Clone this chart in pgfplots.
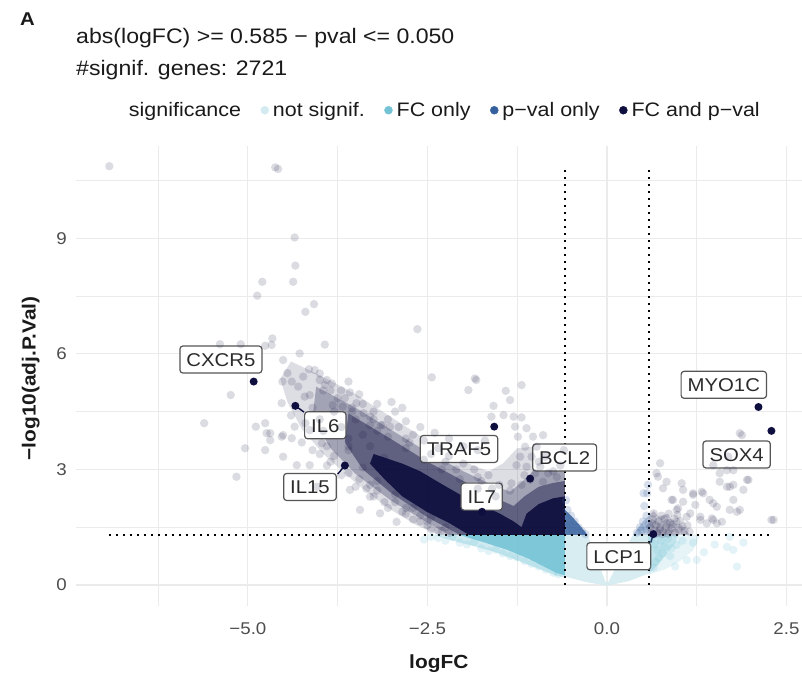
\documentclass[border=0pt]{standalone}
\usepackage{fontspec}
\setmainfont{Liberation Sans}[FakeStretch=1.1]
\usepackage{pgfplots}
\pgfplotsset{compat=1.18}
\definecolor{nscol}{HTML}{D3EBF0}
\definecolor{fccol}{HTML}{74C3D5}
\definecolor{pvcol}{HTML}{35609E}
\definecolor{bothcol}{HTML}{0E0E3F}
\definecolor{gridcol}{HTML}{EBEBEB}
\definecolor{tickcol}{HTML}{4D4D4D}
\definecolor{txtcol}{HTML}{1A1A1A}
\definecolor{labtxt}{HTML}{2B2B2B}
\definecolor{labdraw}{HTML}{555555}
\tikzset{glab/.style={draw=labdraw, fill=white, rounded corners=3pt, line width=1.2pt,
  inner xsep=6.5pt, inner ysep=5pt, text height=15.5pt, text depth=1.5pt,
  font=\fontsize{18.5}{20}\selectfont, text=labtxt}}
\pgfplotsset{dots/.style 2 args={only marks, mark=*, mark size=4.2pt, forget plot, color=#1,
  mark options={draw=#1, fill=#1, draw opacity=0, line width=0pt, fill opacity=#2}},
  area/.style 2 args={draw=none, fill=#1, fill opacity=#2, forget plot}}
\begin{document}
\begin{tikzpicture}[x=1pt,y=1pt]
\path[use as bounding box] (0,0) rectangle (802,680);
\node[anchor=base west, inner sep=0pt, font=\bfseries\fontsize{18.5}{20}\selectfont, text=txtcol] at (20,654) {A};
\node[anchor=base west, inner sep=0pt, font=\fontsize{21}{24}\selectfont, text=txtcol] at (76,636) {abs(logFC) >= 0.585 − pval <= 0.050};
\node[anchor=base west, inner sep=0pt, font=\fontsize{21}{24}\selectfont, text=txtcol] at (76,604.7) {\#signif. genes: 2721};
\node[anchor=base, inner sep=0pt, font=\bfseries\fontsize{19}{22}\selectfont, text=txtcol] at (438.8,11.4) {logFC};
\node[anchor=base, rotate=90, inner sep=0pt, font=\bfseries\fontsize{19}{22}\selectfont, text=txtcol] at (35.5,301.5) {−log10(adj.P.Val)};
\begin{axis}[at={(75.6pt,74.1pt)}, anchor=south west, scale only axis,
  width=726.4pt, height=460.1pt,
  xmin=-7.40, xmax=2.716, ymin=-0.543, ymax=11.40,
  clip=false,
  axis line style={draw=none}, tick style={draw=none},
  xtick={-5,-2.5,0,2.5}, xticklabels={−5.0,−2.5,0.0,2.5},
  ytick={0,3,6,9}, yticklabels={0,3,6,9},
  minor xtick={-6.25,-3.75,-1.25,1.25}, minor ytick={1.5,4.5,7.5,10.5},
  grid=both,
  major grid style={draw=gridcol, line width=1.1pt},
  minor grid style={draw=gridcol, line width=0.6pt},
  tick label style={font=\fontsize{17}{20}\selectfont, text=tickcol, inner sep=0pt},
  xticklabel style={anchor=base, yshift=-28.4pt},
  yticklabel style={anchor=east, xshift=-8.6pt},
  legend style={at={(0.068,1.07725)}, anchor=west, draw=none, fill=none,
    inner sep=0pt, outer sep=0pt, font=\fontsize{19.5}{22}\selectfont, text=txtcol,
    nodes={inner xsep=2pt, inner ysep=0pt, text height=13.5pt, text depth=0pt},
    /tikz/every odd column/.append style={column sep=2pt},
    /tikz/every even column/.append style={column sep=17.5pt}},
  legend columns=-1, legend cell align=left,
]
\addlegendimage{empty legend}\addlegendentry{significance}
\addlegendimage{legend image code/.code={\fill[nscol] (0pt,0pt) circle (4pt);}}\addlegendentry{not signif.}
\addlegendimage{legend image code/.code={\fill[fccol] (0pt,0pt) circle (4pt);}}\addlegendentry{FC only}
\addlegendimage{legend image code/.code={\fill[pvcol] (0pt,0pt) circle (4pt);}}\addlegendentry{p−val only}
\addlegendimage{legend image code/.code={\fill[bothcol] (0pt,0pt) circle (4pt);}}\addlegendentry{FC and p−val}

% ---- not significant (dense core as area) ----
\addplot[area={nscol}{0.9}] coordinates {
(-0.585,0.22) (-0.585,1.30) (-0.27,1.30) (-0.02,0.08) (0.02,0.08) (0.36,1.30) (0.585,1.30) (0.585,0.30) (0.3,0.10) (0,-0.02) (-0.3,0.08)};
% ---- FC only ----
\addplot[area={fccol}{0.35}] coordinates {
(-2.40,1.30) (-0.585,1.30) (-0.585,0.19) (-0.70,0.24) (-0.95,0.42) (-1.25,0.64) (-1.60,0.88) (-2.00,1.08) (-2.25,1.20)};
\addplot[area={fccol}{0.9}] coordinates {
(-2.05,1.30) (-0.585,1.30) (-0.585,0.25) (-0.70,0.31) (-0.90,0.50) (-1.10,0.69) (-1.40,0.92) (-1.70,1.10) (-1.95,1.24)};
\addplot[area={fccol}{0.18}] coordinates {
(0.585,1.30) (1.30,1.30) (1.20,0.90) (1.00,0.60) (0.80,0.40) (0.585,0.27)};
\addplot[area={fccol}{0.3}] coordinates {
(0.585,1.30) (1.00,1.30) (0.95,1.10) (0.85,0.85) (0.72,0.55) (0.62,0.35) (0.585,0.30)};
\addplot[dots={fccol}{0.2}] coordinates {
(-2.35,1.22) (-2.25,1.15) (-2.15,1.25) (-2.05,1.10) (-1.95,1.05) (-1.85,1.12) (-1.75,0.95) (-1.65,0.88)
(-1.55,0.92) (-1.45,0.82) (-1.35,0.75) (-1.25,0.72) (-1.15,0.62) (-1.05,0.55) (-0.95,0.48) (-0.85,0.40)
(-0.75,0.32) (-0.68,0.28) (-2.45,1.25) (-2.55,1.18)
(0.62,1.20) (0.66,1.05) (0.70,0.90) (0.75,1.15) (0.80,1.00) (0.85,1.20) (0.72,0.70) (0.78,0.82)
(0.90,0.95) (0.97,1.04) (1.25,0.65) (1.11,0.65) (0.95,0.48) (1.67,0.99) (1.76,0.91) (1.71,1.25)
(1.05,1.15) (1.20,1.10) (1.35,0.85) (0.65,0.45) (0.68,0.60) (1.50,1.05) (1.90,1.10) (0.88,0.75) (1.81,0.48)};
% ---- p-val only ----
\addplot[area={pvcol}{0.85}] coordinates {
(-0.585,1.30) (-0.27,1.30) (-0.38,1.55) (-0.50,1.80) (-0.585,1.95)};
\addplot[area={pvcol}{0.3}] coordinates {
(0.36,1.30) (0.585,1.30) (0.585,1.80) (0.50,1.65) (0.42,1.45)};
\addplot[dots={pvcol}{0.2}] coordinates {
(-0.55,1.95) (-0.50,1.80) (-0.45,1.65) (-0.40,1.50) (-0.35,1.40) (-0.52,1.55) (-0.48,1.40) (-0.57,2.20) (-0.30,1.32)
(0.46,1.50) (0.50,1.65) (0.55,1.80) (0.52,2.05) (0.56,2.38) (0.51,2.38) (0.48,1.42) (0.42,1.36) (0.57,2.60) (0.55,1.45) (0.58,1.58)};
% ---- FC and p-val: nested density areas ----
\addplot[area={bothcol}{0.14}] coordinates {
(-4.40,5.80) (-4.00,5.45) (-3.50,4.95) (-3.00,4.35) (-2.50,3.75) (-2.00,3.20) (-1.65,2.95) (-1.45,3.15)
(-1.25,3.55) (-0.95,3.60) (-0.70,3.25) (-0.585,3.00) (-0.585,1.30) (-2.35,1.30) (-2.65,1.55) (-3.05,2.00)
(-3.50,2.65) (-3.95,3.40) (-4.25,4.05) (-4.45,4.75) (-4.55,5.35)};
\addplot[area={bothcol}{0.28}] coordinates {
(-4.05,5.15) (-3.50,4.60) (-3.00,4.02) (-2.50,3.45) (-2.00,2.95) (-1.60,2.60) (-1.35,2.42) (-1.20,2.65)
(-1.00,3.00) (-0.80,3.05) (-0.585,2.95) (-0.585,1.30) (-2.20,1.30) (-2.50,1.62) (-3.00,2.18) (-3.50,2.88)
(-3.85,3.55) (-4.10,4.35)};
\addplot[area={bothcol}{0.45}] coordinates {
(-3.60,4.45) (-3.00,3.78) (-2.50,3.20) (-2.00,2.70) (-1.60,2.30) (-1.30,2.05) (-1.15,2.30) (-0.95,2.55)
(-0.75,2.65) (-0.585,2.70) (-0.585,1.30) (-2.05,1.30) (-2.50,1.76) (-3.00,2.38) (-3.40,3.00) (-3.65,3.70)};
\addplot[area={bothcol}{0.92}] coordinates {
(-3.25,3.40) (-2.85,3.15) (-2.60,2.95) (-2.33,2.65) (-2.05,2.35) (-1.72,2.05) (-1.49,1.85) (-1.30,1.65)
(-1.19,1.50) (-1.12,1.85) (-0.95,2.10) (-0.75,2.25) (-0.585,2.30) (-0.585,1.30) (-1.92,1.30) (-2.19,1.60)
(-2.51,1.90) (-2.85,2.30) (-3.10,2.75) (-3.30,3.15)};
\addplot[area={bothcol}{0.2}] coordinates {
(0.585,1.30) (1.15,1.30) (1.05,1.55) (0.92,1.62) (0.85,1.85) (0.72,1.78) (0.65,1.92) (0.585,1.80)};
% ---- FC and p-val: individual points ----
\addplot[dots={bothcol}{0.15}] coordinates {
(-6.93,10.87) (-4.62,10.84) (-4.58,10.80) (-4.35,9.02) (-4.34,8.29) (-4.80,7.87) (-4.37,7.87) (-4.87,7.51)
(-4.08,7.29) (-4.20,7.09) (-2.64,6.64) (-4.66,6.40) (-4.76,6.21) (-5.39,6.25) (-5.10,6.25) (-3.93,6.24)
(-4.28,6.01) (-4.51,5.84) (-4.07,5.58) (-4.00,5.49) (-3.90,5.32) (-4.52,5.28) (-4.39,5.28) (-4.23,5.41)
(-3.60,5.28) (-3.58,5.00) (-5.24,4.93) (-4.53,4.72) (-4.14,4.93) (-4.21,4.89) (-2.44,5.39) (-1.84,5.36)
(-1.93,5.06) (-1.82,5.32) (-5.61,4.20) (-4.89,4.11) (-4.76,4.20) (-4.69,3.94) (-4.51,3.89) (-4.35,4.11)
(-3.82,4.67) (-3.68,4.63) (-3.49,4.72) (-3.39,4.46) (-3.30,4.37) (-3.12,4.15) (-3.02,4.11)
(-4.00,5.32) (-3.93,5.19) (-3.83,5.23) (-4.67,6.23)
(-5.16,2.81) (-5.04,3.55) (-4.74,3.94) (-4.69,3.76) (-4.53,3.85) (-4.39,3.81) (-4.14,4.02) (-3.97,3.68)
(-4.76,3.50) (-4.51,3.33) (-4.14,3.11) (-4.32,3.11) (-4.04,2.55) (-3.44,1.95) (-3.16,1.86) (-2.93,1.64)
(-3.30,2.29) (-3.58,2.47)
(-4.45,5.50) (-4.30,5.15) (-4.15,5.60) (-3.70,5.05) (-3.45,4.95) (-3.20,4.70) (-2.95,4.50) (-2.80,4.25)
(-2.60,4.10) (-2.40,3.95) (-2.20,3.80) (-2.00,3.60) (-1.80,3.50) (-1.70,3.75) (-2.85,4.60) (-3.00,4.75)
(-3.60,3.50) (-3.85,3.20) (-3.60,2.90) (-3.35,2.50) (-3.10,2.15) (-2.80,1.85) (-2.60,1.65) (-2.45,1.45)
(-2.30,1.40) (-4.00,3.40) (-4.25,3.70) (-4.40,4.40) (-4.20,4.20)
(-3.85,5.05) (-3.65,4.85) (-3.40,4.70) (-3.25,4.50) (-3.05,4.30) (-2.90,4.10) (-2.70,3.90) (-2.55,3.75)
(-2.35,3.55) (-2.20,3.35) (-2.00,3.15) (-1.85,3.00) (-1.65,2.85) (-1.50,2.60) (-1.35,2.45) (-3.55,4.60)
(-3.15,4.15) (-2.80,3.80) (-2.45,3.40) (-2.10,3.00) (-1.75,2.70) (-1.60,2.50)
(-4.10,3.50) (-3.90,3.10) (-3.70,2.85) (-3.50,2.55) (-3.25,2.30) (-3.05,2.00) (-2.85,1.90) (-2.70,1.70)
(-2.50,1.55) (-2.35,1.42) (-2.20,1.35) (-3.80,3.35) (-3.45,2.75) (-3.20,2.45) (-2.95,2.15) (-2.60,1.80)
(-4.10,4.60) (-4.00,4.30) (-3.95,4.00) (-3.80,4.50) (-3.70,4.10) (-3.60,3.80) (-3.50,4.30) (-3.40,3.90)
(-3.30,3.60) (-3.20,4.00) (-3.10,3.30)
(-3.55,4.50) (-3.30,4.15) (-3.05,3.85) (-2.80,3.55) (-2.55,3.25) (-2.30,3.00) (-2.05,2.75) (-1.80,2.50)
(-1.55,2.30) (-3.95,5.05) (-3.75,4.85) (-3.25,4.30) (-2.75,3.70) (-2.25,3.20) (-1.80,2.80)
(-3.60,3.60) (-3.40,3.05) (-3.20,2.70) (-2.95,2.35) (-2.70,2.00) (-2.45,1.75) (-2.25,1.50)
(-3.90,3.60) (-3.65,3.10) (-3.30,2.60) (-2.80,2.00) (-2.50,1.65)
(-1.00,2.90) (-0.75,2.95) (-0.65,3.10) (-0.70,2.80) (-0.95,3.20) (-1.15,2.85) (-0.60,3.50)
(-1.41,5.04) (-1.19,5.19) (-1.35,4.80) (-1.58,4.65) (-1.61,4.37) (-1.44,4.41) (-1.30,4.37) (-1.19,4.35)
(-1.28,4.11) (-1.12,4.07) (-1.03,3.85) (-0.89,3.89) (-1.24,3.85) (-1.14,3.59) (-0.98,3.59) (-0.86,3.33)
(-1.05,3.33) (-1.21,3.33) (-1.26,3.11) (-1.12,3.07) (-0.93,3.07) (-0.82,2.90) (-1.07,2.73) (-0.89,2.68)
(-1.33,2.64) (-1.19,2.60)
(0.74,3.16) (0.69,2.90) (0.83,2.68) (1.06,2.47) (1.20,2.38) (1.32,2.42) (1.43,2.21) (1.53,2.03)
(1.57,2.68) (1.71,2.55) (1.76,2.21) (1.85,3.94) (1.76,2.98) (1.95,2.73) (1.85,1.95) (2.32,1.69)
(0.92,2.21) (0.97,1.95) (1.16,1.86) (1.30,1.77) (1.48,1.69) (0.65,1.86) (0.74,1.51) (0.83,1.60) (0.97,1.64)
(0.71,2.81) (0.78,2.51) (1.04,2.64) (0.90,2.21) (1.06,2.16) (1.20,2.34) (1.34,2.38) (1.23,2.08)
(0.99,1.99) (1.11,1.77) (1.48,2.12) (1.67,2.55) (1.76,2.60) (1.67,2.98) (1.69,3.33) (1.88,3.89)
(1.97,2.73) (1.90,2.47) (1.71,1.95) (1.81,1.90) (2.29,1.69) (1.46,1.73) (1.53,1.60) (1.60,1.64)
(1.30,1.69) (1.39,1.60) (1.48,3.11) (1.57,2.90)
(0.62,1.35) (0.66,1.42) (0.70,1.36) (0.74,1.45) (0.78,1.38) (0.82,1.50) (0.86,1.40) (0.90,1.47)
(0.95,1.36) (1.00,1.44) (1.05,1.52) (0.68,1.55) (0.72,1.65) (0.80,1.70) (0.88,1.62) (0.94,1.72)
(1.02,1.66) (1.08,1.40) (0.64,1.70) (0.76,1.80) (0.86,1.85) (0.60,1.50) (0.63,1.60) (0.69,1.33)
(0.77,1.32) (0.85,1.33) (0.92,1.58) (1.12,1.55) (1.15,1.38) (0.98,1.82)};
% ---- thresholds ----
\addplot[black, line width=1.5pt, dash pattern=on 2pt off 5pt, forget plot] coordinates {(-6.94,1.301) (2.31,1.301)};
\addplot[black, line width=1.5pt, dash pattern=on 2pt off 5pt, forget plot] coordinates {(-0.585,0.0) (-0.585,10.86)};
\addplot[black, line width=1.5pt, dash pattern=on 2pt off 5pt, forget plot] coordinates {(0.585,0.0) (0.585,10.86)};
% ---- label segments ----
\addplot[color=bothcol, line width=1.4pt, forget plot] coordinates {(-4.34,4.65) (-4.22,4.49)};
\addplot[color=bothcol, line width=1.4pt, forget plot] coordinates {(-3.65,3.10) (-3.75,2.88)};
\addplot[color=bothcol, line width=1.4pt, forget plot] coordinates {(0.645,1.32) (0.61,1.10)};
% ---- labelled genes ----
\addplot[dots={bothcol}{1}, mark size=4pt] coordinates {
(-4.92,5.28) (-4.34,4.65) (-3.65,3.10) (-1.57,4.11) (-1.07,2.76) (-1.74,1.90) (0.645,1.32) (2.11,4.62) (2.29,4.00)};
\node[glab] at (axis cs:-5.376,5.852) {CXCR5};
\node[glab] at (axis cs:-3.923,4.145) {IL6};
\node[glab] at (axis cs:-4.136,2.544) {IL15};
\node[glab] at (axis cs:-2.061,3.530) {TRAF5};
\node[glab] at (axis cs:-0.589,3.309) {BCL2};
\node[glab] at (axis cs:-1.745,2.293) {IL7};
\node[glab] at (axis cs:0.165,0.746) {LCP1};
\node[glab] at (axis cs:1.627,5.196) {MYO1C};
\node[glab] at (axis cs:1.806,3.387) {SOX4};
\end{axis}
\end{tikzpicture}
\end{document}
